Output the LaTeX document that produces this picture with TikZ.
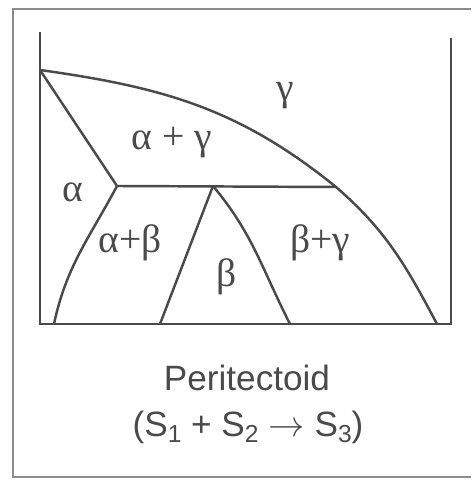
\documentclass[tikz,border=0pt]{standalone}
\usepackage{fontspec}
\setmainfont{Liberation Sans}
\newfontfamily\grkfont{Liberation Serif}
\usetikzlibrary{positioning}
\definecolor{ink}{HTML}{4A4A4A}
\newcommand{\lowsub}[1]{\raisebox{-0.35ex}{\fontsize{14}{14}\selectfont #1}}

\begin{document}
\begin{tikzpicture}[
  x=0.02cm, y=0.02cm,
  font=\fontsize{20}{24}\selectfont,
  frame/.style={draw=black!45, line width=0.7pt},
  axis/.style={draw=ink, line width=1.4pt},
  bound/.style={draw=ink, line width=1.4pt},
  phase/.style={text=ink, font=\fontsize{22.5}{26}\selectfont\grkfont, inner sep=0pt},
  caption/.style={text=ink, inner sep=0pt},
]
\useasboundingbox (0,0) rectangle (471,482);

% Page frame, cut off at the right edge.
\draw[frame] (471,473) -- (13,473) -- (13,5) -- (471,5);

% Axes: two temperature axes and the composition base line.
\coordinate (ltop) at (40,450);
\coordinate (lbot) at (40,158);
\coordinate (rtop) at (451,444);
\coordinate (rbot) at (451,158);
\draw[axis] (ltop) -- (lbot) -- (rbot) -- (rtop);

% Points where the phase boundaries meet.
\coordinate (melt) at (40,412);
\coordinate (vtx) at (117,296);
\coordinate (apex) at (213,296);
\coordinate (junc) at (336,295);
\coordinate (afoot) at (54,158);
\coordinate (blfoot) at (160,158);
\coordinate (brfoot) at (290,158);
\coordinate (gfoot) at (437,158);

% gamma boundary, from the left axis down to the base line.
\draw[bound] (melt) to[out=-8, in=141] (junc) to[out=-41, in=118] (gfoot);
\draw[bound] (melt) -- (vtx);
% peritectoid line
\draw[bound] (vtx) -- (junc);
\draw[bound] (vtx) to[out=242, in=78] (afoot);
% the beta field under the peritectoid point
\draw[bound] (apex) -- (blfoot);
\draw[bound] (apex) to[out=-50, in=117] (brfoot);

% Phase labels.
\node[phase] (gam) at (285,386) {γ};
\node[phase] (algam) at (172,339) {α + γ};
\node[phase] (alp) at (73,290) {α};
\node[phase] (albet) at (130,239) {α+β};
\node[phase] (bet) at (227,205) {β};
\node[phase] (begam) at (320,239) {β+γ};

% Caption under the diagram.
\node[caption] (title) at (247,104) {Peritectoid};
\node[caption] (react) at (248,55) {(S\lowsub{1} + S\lowsub{2} \(\rightarrow\) S\lowsub{3})};
\end{tikzpicture}
\end{document}
